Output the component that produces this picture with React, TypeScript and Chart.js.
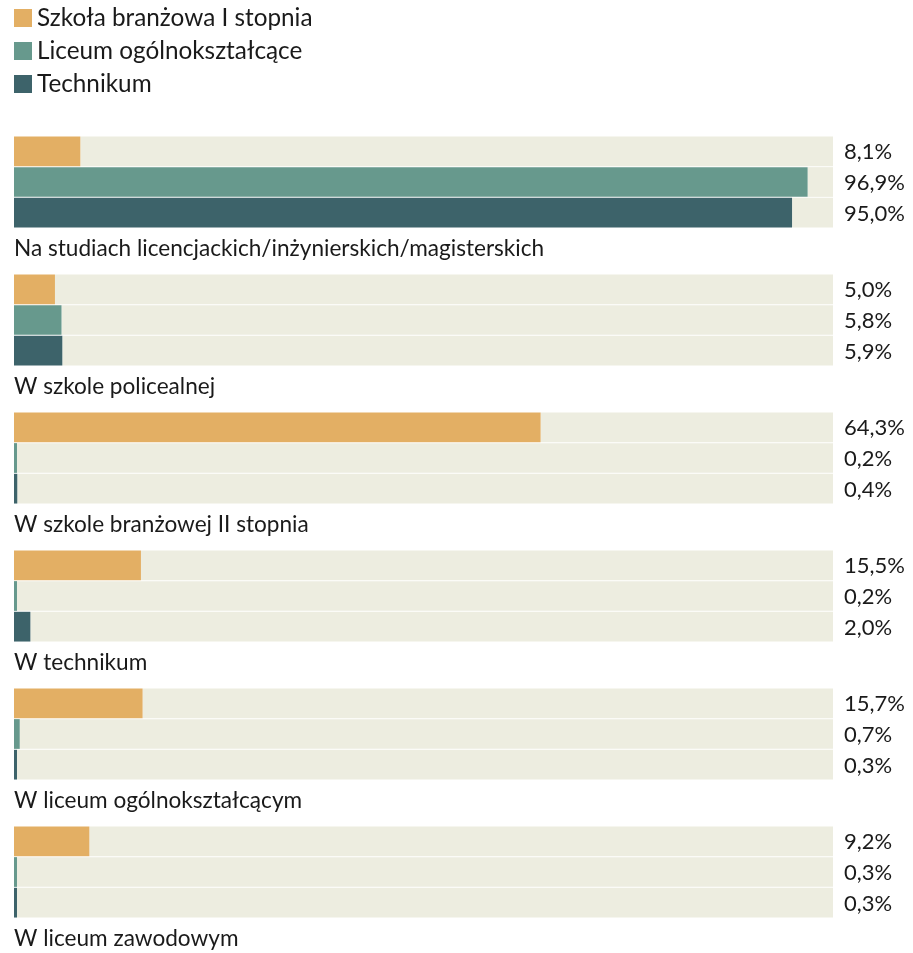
import React, { useEffect, useRef } from "react";
import { Chart, registerables } from "chart.js";

Chart.register(...registerables);

const categories = [
  "Na studiach licencjackich/inżynierskich/magisterskich",
  "W szkole policealnej",
  "W szkole branżowej II stopnia",
  "W technikum",
  "W liceum ogólnokształcącym",
  "W liceum zawodowym",
];
const seriesNames = ["Szkoła branżowa I stopnia", "Liceum ogólnokształcące", "Technikum"];
const szkolaBranzowa = [8.1, 5.0, 64.3, 15.5, 15.7, 9.2];
const liceum = [96.9, 5.8, 0.2, 0.2, 0.7, 0.3];
const technikum = [95.0, 5.9, 0.4, 2.0, 0.3, 0.3];
const colors = ["#E3AF64", "#67998D", "#3D636A"];
const trackColor = "#EDEDE0";
const FONT = "Lato, 'Open Sans', sans-serif";
const TEXT = "#1a1a1a";

const fmt = (v: number) => v.toFixed(1).replace(".", ",") + "%";

export default function App() {
  const ref = useRef<HTMLCanvasElement>(null);
  useEffect(() => {
    if (!ref.current) return;
    const series = [szkolaBranzowa, liceum, technikum];
    const datasets: any[] = [];
    series.forEach((vals, i) => {
      datasets.push({
        label: seriesNames[i],
        data: vals,
        backgroundColor: colors[i],
        stack: "s" + i,
        categoryPercentage: 92 / 138,
        barPercentage: 0.97,
        borderWidth: 0,
        minBarLength: 3,
      });
      datasets.push({
        label: "rest" + i,
        data: vals.map((v) => 100 - v),
        backgroundColor: trackColor,
        stack: "s" + i,
        categoryPercentage: 92 / 138,
        barPercentage: 0.97,
        borderWidth: 0,
      });
    });

    const labelsPlugin = {
      id: "customLabels",
      afterDatasetsDraw(chart: any) {
        const ctx = chart.ctx;
        const area = chart.chartArea;
        ctx.save();
        ctx.fillStyle = TEXT;
        ctx.textAlign = "left";
        ctx.textBaseline = "middle";
        // value labels
        ctx.font = `22px ${FONT}`;
        [0, 2, 4].forEach((di, si) => {
          const meta = chart.getDatasetMeta(di);
          meta.data.forEach((bar: any, j: number) => {
            ctx.fillText(fmt(series[si][j]), area.right + 11, bar.y + 1);
          });
        });
        // category labels
        ctx.font = `22.6px ${FONT}`;
        const last = chart.getDatasetMeta(4);
        last.data.forEach((bar: any, j: number) => {
          ctx.fillText(categories[j], area.left, bar.y + bar.height / 2 + 21);
        });
        // legend
        ctx.font = `24.3px ${FONT}`;
        seriesNames.forEach((name, i) => {
          const y = 18 + i * 33;
          ctx.fillStyle = colors[i];
          ctx.fillRect(14, y - 9, 18, 18);
          ctx.fillStyle = TEXT;
          ctx.fillText(name, 37, y);
        });
        ctx.restore();
      },
    };

    const chart = new Chart(ref.current, {
      type: "bar",
      data: { labels: categories, datasets },
      options: {
        indexAxis: "y",
        animation: false,
        responsive: false,
        maintainAspectRatio: false,
        layout: { padding: { top: 113, left: 14, right: 80, bottom: 12 } },
        scales: {
          x: { stacked: true, min: 0, max: 100, display: false },
          y: { stacked: true, display: false },
        },
        plugins: { legend: { display: false }, tooltip: { enabled: false } },
      },
      plugins: [labelsPlugin],
    });
    return () => chart.destroy();
  }, []);

  return (
    <div style={{ position: "absolute", left: 0, top: 0, width: 913, height: 953, background: "#fff" }}>
      <canvas ref={ref} width={913} height={953} style={{ width: 913, height: 953, display: "block" }} />
    </div>
  );
}
